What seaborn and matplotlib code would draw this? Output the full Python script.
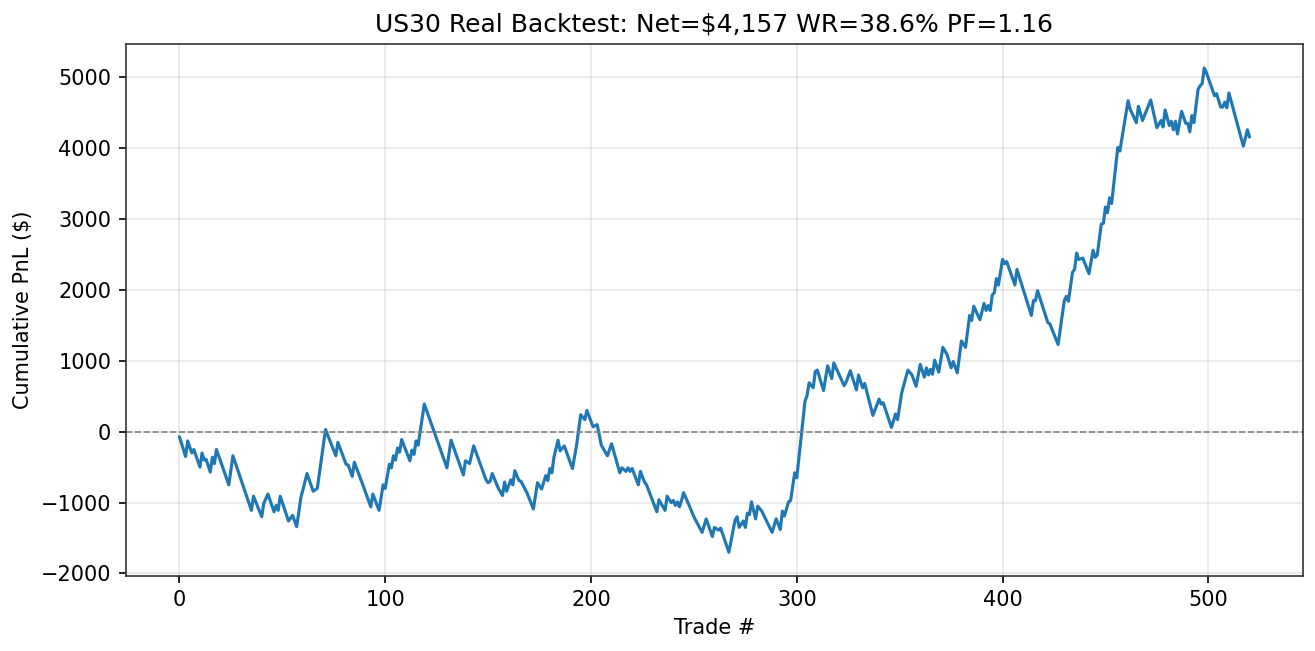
import pandas as pd
import matplotlib
matplotlib.use("Agg")
import matplotlib.pyplot as plt
import seaborn as sns

# Waypoints (trade #, cumulative PnL $)
trades = [0, 3, 4, 6, 7, 10, 11, 12, 13, 15, 16, 17, 18, 24, 26, 35, 36, 40, 41, 43,
          46, 47, 48, 49, 53, 55, 57, 59, 60, 62, 65, 67, 71, 76, 77, 81, 82, 84, 85, 89,
          93, 94, 97, 99, 100, 102, 103, 104, 105, 106, 107, 108, 112, 113, 114, 115, 116, 119, 130, 132,
          138, 139, 141, 143, 149, 150, 151, 152, 155, 157, 158, 159, 161, 162, 163, 165, 166, 169, 172, 174,
          176, 178, 179, 180, 181, 182, 184, 185, 187, 191, 193, 195, 197, 198, 201, 203, 205, 208, 210, 214,
          215, 217, 218, 219, 220, 223, 224, 226, 227, 232, 233, 236, 237, 239, 240, 241, 242, 243, 244, 245,
          248, 250, 254, 256, 259, 260, 262, 263, 267, 270, 271, 272, 274, 275, 276, 277, 278, 280, 281, 283,
          288, 290, 292, 293, 294, 296, 297, 299, 300, 304, 305, 306, 308, 309, 310, 313, 315, 317, 318, 323,
          324, 326, 329, 330, 332, 333, 337, 340, 341, 342, 346, 348, 349, 351, 354, 356, 358, 360, 362, 363,
          364, 365, 366, 367, 369, 371, 373, 375, 376, 378, 380, 382, 384, 385, 386, 389, 391, 392, 393, 394,
          395, 396, 397, 398, 400, 401, 402, 406, 407, 414, 415, 416, 417, 422, 423, 427, 430, 431, 432, 434,
          435, 436, 437, 439, 442, 444, 445, 446, 448, 449, 450, 451, 452, 453, 456, 457, 461, 462, 465, 466,
          468, 472, 475, 477, 478, 479, 481, 482, 483, 484, 485, 487, 489, 490, 491, 492, 493, 495, 496, 497,
          498, 499, 503, 504, 506, 507, 508, 509, 510, 517, 519, 520]
pnl = [-72, -350, -130, -300, -250, -500, -300, -400, -390, -570, -360, -450, -250, -750, -340, -1110, -910, -1200, -1010, -880,
       -1130, -1040, -1110, -910, -1260, -1180, -1340, -930, -820, -590, -840, -800, 30, -340, -150, -460, -470, -630, -430, -740,
       -1060, -880, -1110, -750, -800, -460, -510, -340, -400, -230, -290, -110, -410, -260, -320, -130, -190, 390, -510, -120,
       -610, -410, -450, -200, -680, -720, -700, -590, -800, -900, -710, -840, -680, -750, -550, -690, -700, -870, -1090, -720,
       -810, -620, -690, -520, -580, -360, -120, -270, -200, -520, -190, 240, 170, 300, 70, 100, -190, -340, -170, -580,
       -510, -560, -510, -560, -520, -750, -560, -710, -750, -1130, -960, -1110, -910, -1000, -970, -1040, -990, -1060, -970, -860,
       -1060, -1200, -1420, -1230, -1480, -1350, -1390, -1360, -1700, -1250, -1200, -1350, -1260, -1350, -1150, -1170, -990, -1230, -1050, -1120,
       -1420, -1230, -1380, -1120, -1190, -990, -970, -580, -650, 430, 510, 690, 620, 850, 870, 580, 930, 750, 970, 650,
       700, 860, 590, 800, 620, 680, 230, 460, 390, 410, 60, 250, 170, 550, 870, 800, 640, 950, 770, 900,
       800, 880, 810, 1010, 840, 1190, 1090, 900, 990, 830, 1280, 1190, 1640, 1570, 1770, 1580, 1810, 1710, 1780, 1710,
       1930, 1960, 2160, 2070, 2430, 2370, 2400, 2070, 2290, 1640, 1850, 1850, 1990, 1540, 1520, 1230, 1850, 1910, 1840, 2250,
       2290, 2520, 2430, 2450, 2230, 2560, 2460, 2490, 2930, 2940, 3170, 3090, 3300, 3220, 4010, 3960, 4670, 4550, 4360, 4590,
       4390, 4680, 4290, 4390, 4300, 4540, 4320, 4380, 4260, 4380, 4200, 4520, 4350, 4350, 4230, 4460, 4360, 4830, 4880, 4910,
       5130, 5070, 4740, 4770, 4580, 4580, 4650, 4570, 4780, 4030, 4260, 4157]

df = pd.DataFrame({"trade": trades, "pnl": pnl})

sns.set_style("ticks")
plt.rcParams["font.family"] = ["DejaVu Sans"]
plt.rcParams.update({"text.color": "black", "axes.labelcolor": "black",
                     "xtick.color": "black", "ytick.color": "black"})

fig, ax = plt.subplots(figsize=(8.77, 4.34), dpi=150)
sns.lineplot(data=df, x="trade", y="pnl", ax=ax, color="#1f77b4", linewidth=1.5)
ax.axhline(0, color="gray", linestyle="--", linewidth=0.8)
ax.grid(True, color="#b0b0b0", alpha=0.3)
ax.set_title("US30 Real Backtest: Net=$4,157 WR=38.6% PF=1.16", fontsize=12)
ax.set_xlabel("Trade #")
ax.set_ylabel("Cumulative PnL ($)")
ax.set_xlim(-26, 546)
ax.set_ylim(-2030, 5470)
for s in ax.spines.values():
    s.set_color("#333333")
plt.tight_layout(pad=0.6)
plt.savefig("out.png", dpi=150)
